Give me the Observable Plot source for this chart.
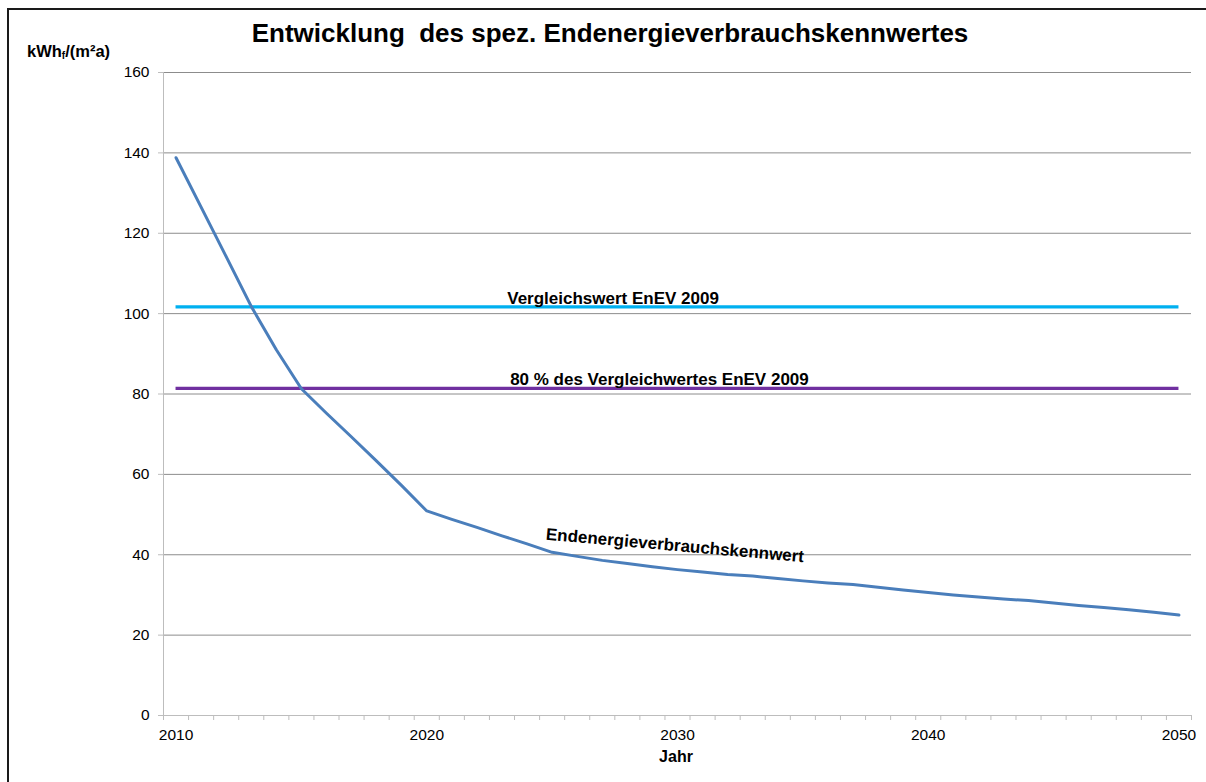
<!DOCTYPE html>
<html>
<head>
<meta charset="utf-8">
<script src="https://cdn.jsdelivr.net/npm/d3@7"></script>
<script src="https://cdn.jsdelivr.net/npm/@observablehq/plot@0.6"></script>
<style>
  html, body { margin: 0; padding: 0; background: #fff; overflow: hidden; }
  #wrap { position: relative; width: 1206px; height: 782px; overflow: hidden; font-family: "Liberation Sans", Arial, sans-serif; }
  #frame { position: absolute; left: 7px; top: 8px; width: 1300px; height: 900px; border-left: 2px solid #1a1a1a; border-top: 2px solid #1a1a1a; box-sizing: border-box; pointer-events: none; }
  #title { position: absolute; left: 0; width: 1220px; top: 18px; text-align: center; font-size: 26px; font-weight: bold; color: #000; white-space: pre; }
  #ylab { position: absolute; left: 27px; top: 42px; font-size: 16.5px; font-weight: bold; color: #000; }
  #ylab sub { font-size: 10px; vertical-align: -2px; }
  #xlab { position: absolute; left: 0; width: 1352px; top: 748px; text-align: center; font-size: 16px; font-weight: bold; color: #000; }
  #chart { position: absolute; left: 0; top: 0; }
</style>
</head>
<body>
<div id="wrap">
  <div id="chart"></div>
  <div id="frame"></div>
  <div id="title">Entwicklung  des spez. Endenergieverbrauchskennwertes</div>
  <div id="ylab">kWh<sub>f</sub>/(m²a)</div>
  <div id="xlab">Jahr</div>
</div>
<script>
// Categories (years)
const years = [2010, 2011, 2012, 2013, 2014, 2015, 2016, 2017, 2018, 2019,
               2020, 2021, 2022, 2023, 2024, 2025, 2026, 2027, 2028, 2029,
               2030, 2031, 2032, 2033, 2034, 2035, 2036, 2037, 2038, 2039,
               2040, 2041, 2042, 2043, 2044, 2045, 2046, 2047, 2048, 2049, 2050];
// Endenergieverbrauchskennwert (kWh_f/(m²a))
const kennwert = [138.8, 126.5, 114.2, 101.8, 91.0, 81.3, 75.2, 69.3, 63.3, 57.2,
                  50.9, 48.8, 46.8, 44.7, 42.7, 40.6, 39.6, 38.6, 37.8, 37.0,
                  36.3, 35.7, 35.1, 34.7, 34.1, 33.5, 33.0, 32.6, 31.9, 31.2,
                  30.6, 30.0, 29.5, 29.0, 28.6, 28.0, 27.4, 26.9, 26.3, 25.7, 25.0];
// Reference values
const refNames = ["Vergleichswert EnEV 2009", "80 % des Vergleichwertes EnEV 2009"];
const refValues = [101.7, 81.4];
const refColors = ["#00b0f0", "#7030a0"];
// Axis ticks
const yTicks = [0, 20, 40, 60, 80, 100, 120, 140, 160];
const xTickLabels = [2010, 2020, 2030, 2040, 2050];

const series = years.map((year, i) => ({year, value: kennwert[i]}));
const refs = refValues.map((v, i) => ({name: refNames[i], value: v, color: refColors[i]}));
const boundaries = [...years.map(y => y - 0.5), years[years.length - 1] + 0.5];

// Annotation labels
const labels = [
  {text: "Vergleichswert EnEV 2009", year: 2027.43, value: 102.3, anchor: "bottom"},
  {text: "80 % des Vergleichwertes EnEV 2009", year: 2029.28, value: 82.3, anchor: "bottom"},
  {text: "Endenergieverbrauchskennwert", year: 2029.9, value: 42.3, anchor: "middle"}
];

const chart = Plot.plot({
  width: 1206,
  height: 782,
  marginLeft: 163,
  marginRight: 15,
  marginTop: 72,
  marginBottom: 67,
  style: {fontFamily: "'Liberation Sans', Arial, sans-serif", fontSize: "15.5px", color: "#000", background: "transparent"},
  x: {type: "linear", domain: [years[0] - 0.5, years[years.length - 1] + 0.5]},
  y: {domain: [0, 160]},
  marks: [
    Plot.gridY(yTicks.filter(d => d > 0), {stroke: "#8c8c8c", strokeOpacity: 1}),
    Plot.ruleY([0], {stroke: "#bdbdbd"}),
    Plot.ruleX([years[0] - 0.5], {stroke: "#bdbdbd"}),
    Plot.axisY({ticks: yTicks, tickSize: 5, tickPadding: 9, stroke: "#bdbdbd", fill: "#000", label: null}),
    Plot.axisX({ticks: boundaries, tickSize: 5, tickFormat: () => "", stroke: "#bdbdbd", label: null}),
    Plot.axisX({ticks: xTickLabels, tickSize: 0, tickPadding: 13, tickFormat: d => String(d), fill: "#000", label: null}),
    Plot.ruleY(refs, {y: "value", x1: years[0], x2: years[years.length - 1], stroke: "color", strokeWidth: 3.2}),
    Plot.line(series, {x: "year", y: "value", stroke: "#4a7ebb", strokeWidth: 3, strokeLinejoin: "round", strokeLinecap: "round"}),
    Plot.text(labels.filter(d => d.anchor === "bottom"), {x: "year", y: "value", text: "text", lineAnchor: "bottom", textAnchor: "middle", fontWeight: "bold", fontSize: 17, fill: "#000"}),
    Plot.text(labels.filter(d => d.anchor === "middle"), {x: "year", y: "value", text: "text", rotate: 5, lineAnchor: "middle", textAnchor: "middle", fontWeight: "bold", fontSize: 17, fill: "#000"})
  ]
});
document.getElementById("chart").appendChild(chart);
</script>
</body>
</html>
